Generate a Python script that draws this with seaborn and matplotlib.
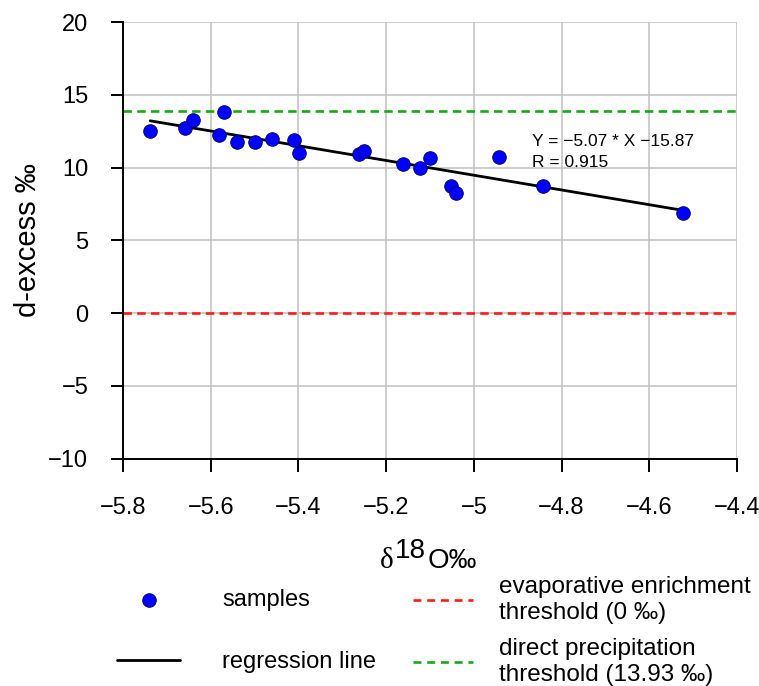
import numpy as np
import pandas as pd
import matplotlib
matplotlib.use('Agg')
import matplotlib.pyplot as plt
import seaborn as sns

# samples
d18O = [-5.738, -5.659, -5.640, -5.569, -5.581, -5.540, -5.499, -5.460, -5.410, -5.399,
        -5.262, -5.251, -5.162, -5.122, -5.101, -5.051, -5.041, -4.943, -4.843, -4.524]
dexcess = [12.54, 12.71, 13.28, 13.81, 12.25, 11.77, 11.77, 12.00, 11.90, 11.03,
           10.94, 11.17, 10.23, 10.00, 10.65, 8.74, 8.28, 10.76, 8.74, 6.90]

slope = -5.07
intercept = -15.87
r_value = 0.915
evap_threshold = 0.0
precip_threshold = 13.93

x_ticks = [-5.8, -5.6, -5.4, -5.2, -5.0, -4.8, -4.6, -4.4]
y_ticks = [-10, -5, 0, 5, 10, 15, 20]

sns.set_style('white')
plt.rcParams['font.family'] = ['Liberation Sans', 'DejaVu Sans']
plt.rcParams['text.color'] = 'black'

dados = pd.DataFrame({'d18O': d18O, 'dexcess': dexcess})
reg = pd.DataFrame({'d18O': [min(d18O), max(d18O)]})
reg['dexcess'] = slope * reg['d18O'] + intercept

fig = plt.figure(figsize=(7.59, 6.86), dpi=100)
ax = fig.add_axes([0.162, 0.3316, 0.809, 0.636])

ax.axhline(evap_threshold, color='#ff1a1a', lw=1.9, dashes=(3.2, 2.0),
           label='evaporative enrichment\nthreshold (0 \u2030)', zorder=2)
ax.axhline(precip_threshold, color='#18a818', lw=1.9, dashes=(3.2, 2.0),
           label='direct precipitation\nthreshold (13.93 \u2030)', zorder=2)
sns.lineplot(data=reg, x='d18O', y='dexcess', color='black', lw=2.0,
             label='regression line', ax=ax, zorder=3)
sns.scatterplot(data=dados, x='d18O', y='dexcess', color='#0000ff', edgecolor='#00007a',
                linewidth=0.7, s=95, label='samples', ax=ax, zorder=4)

ax.set_xlim(-5.8, -4.4)
ax.set_ylim(-10, 20)
ax.set_xticks(x_ticks)
ax.set_yticks(y_ticks)
ax.set_xticklabels([f'{v:g}'.replace('-', '\u2212') for v in x_ticks])
ax.set_yticklabels([f'{v:g}'.replace('-', '\u2212') for v in y_ticks])
ax.grid(True, color='#c0c0c0', lw=1.1, zorder=0)
ax.set_axisbelow(True)
for side in ['top', 'right']:
    ax.spines[side].set_visible(False)
for side in ['left', 'bottom']:
    ax.spines[side].set_linewidth(1.4)
    ax.spines[side].set_color('black')
ax.tick_params(bottom=True, left=True, direction='out', length=9, width=1.4,
               labelsize=17, colors='black')
ax.tick_params(axis='x', pad=19)
ax.tick_params(axis='y', pad=16)

# equation
ax.text(-4.868, 11.49, 'Y = \u22125.07 * X \u221215.87', fontsize=12.5, va='baseline', color='black')
ax.text(-4.868, 10.03, f'R = {r_value}', fontsize=12.5, va='baseline', color='black')

ax.set_xlabel('')
ax.set_ylabel('d-excess \u2030', fontsize=21, color='black')
ax.yaxis.set_label_coords(-0.132, 0.5)

# x label: delta, superscript 18, O permil
yb = 1 - 568 / 686
t1 = fig.text(380 / 759, yb, '\u03b4', fontsize=21, family='Liberation Serif', va='baseline')
t2 = ax.annotate('18', xy=(1, yb), xycoords=(t1, 'figure fraction'), xytext=(1, 7),
                 textcoords='offset points', fontsize=20, va='baseline', annotation_clip=False)
ax.annotate('O\u2030', xy=(1, yb), xycoords=(t2, 'figure fraction'), xytext=(1, 0),
            textcoords='offset points', fontsize=20, va='baseline', annotation_clip=False)

handles, labels = ax.get_legend_handles_labels()
ax.get_legend().remove()
lookup = dict(zip(labels, handles))
left_keys = ['samples', 'regression line']
right_keys = [labels[0], labels[1]]

fig.legend([lookup[k] for k in left_keys], left_keys, loc='center left',
           bbox_to_anchor=(117 / 759, 0.08), frameon=False, fontsize=17,
           handlelength=2.67, handletextpad=1.78, labelspacing=1.7,
           borderpad=0, borderaxespad=0)
leg2 = fig.legend([lookup[k] for k in right_keys], right_keys, loc='center left',
                  bbox_to_anchor=(413 / 759, 0.08), frameon=False, fontsize=17.5,
                  handlelength=2.45, handletextpad=1.1, labelspacing=0.6,
                  borderpad=0, borderaxespad=0)
for line in leg2.get_lines():
    line.set_dashes((3.0, 2.2))

fig.savefig('out.png', dpi=100)
